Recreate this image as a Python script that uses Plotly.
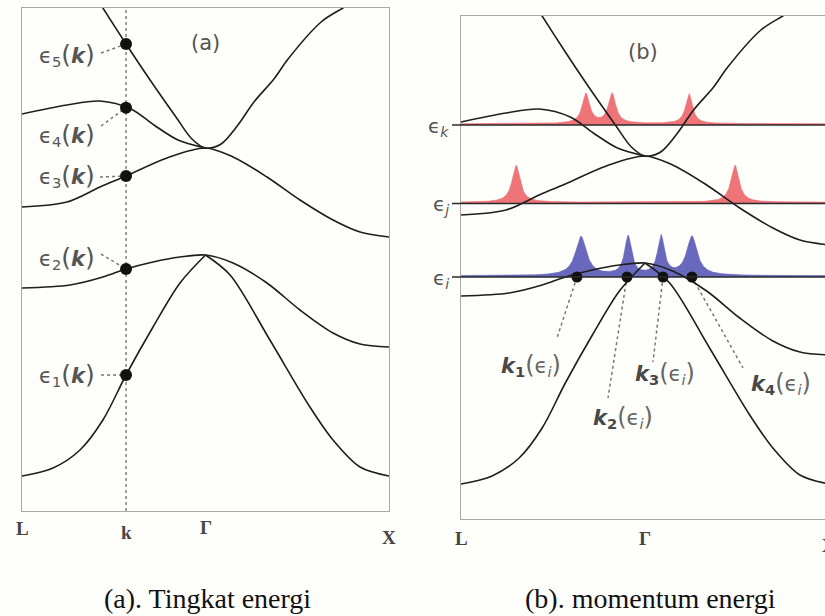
import numpy as np
import plotly.graph_objects as go

W, H = 825, 616

# ---------------- data (k: L=-1, Gamma=0, X=+1 ; energy in arbitrary units) ----------------
band1_left_k = [-1.0, -0.831, -0.684, -0.559, -0.433, -0.286, -0.139, 0.0]
band1_left_E = [-8.84, -8.52, -7.80, -6.60, -4.80, -2.88, -1.12, 0.0]
band1_right_k = [0.0, 0.134, 0.351, 0.569, 0.695, 0.842, 1.0]
band1_right_E = [0.0, -0.80, -3.40, -6.08, -7.40, -8.48, -8.84]

band2_k = [-1.0, -0.738, -0.559, -0.433, -0.286, -0.139, 0.0, 0.150, 0.335, 0.515, 0.695, 0.842, 1.0]
band2_E = [-1.32, -1.20, -0.88, -0.56, -0.28, -0.08, 0.0, -0.32, -1.12, -2.20, -3.12, -3.56, -3.68]

band3_k = [-1.0, -0.755, -0.575, -0.433, -0.210, 0.0, 0.150, 0.335, 0.515, 0.695, 0.842, 1.0]
band3_E = [1.92, 2.12, 2.72, 3.16, 3.88, 4.28, 3.92, 3.12, 2.20, 1.40, 0.92, 0.72]

band4_k = [-1.0, -0.755, -0.575, -0.406, -0.281, -0.150, 0.0]
band4_E = [5.64, 6.00, 6.16, 5.84, 5.20, 4.60, 4.28]

band5_k = [-0.629, -0.559, -0.433, -0.302, -0.161, -0.074, 0.0, 0.085, 0.177, 0.264, 0.373, 0.450, 0.630, 0.749, 0.896]
band5_E = [10.68, 9.88, 8.44, 7.00, 5.52, 4.64, 4.28, 4.44, 5.20, 6.12, 7.04, 7.84, 9.32, 9.88, 10.52]

k_point = -0.433                      # the k marked in panel (a)
state_labels = ["5", "4", "3", "2", "1"]

level_names = ["k", "j", "i"]
level_E = [5.52, 2.38, -0.56]

peak_k_pos = [-0.321, -0.179, 0.239]
peak_k_height = [1.20, 1.20, 1.20]
peak_k_width = [0.024, 0.024, 0.022]

peak_j_pos = [-0.701, 0.489]
peak_j_height = [1.48, 1.48]
peak_j_width = [0.026, 0.026]

peak_i_pos = [-0.348, -0.092, 0.087, 0.255]
peak_i_height = [1.56, 1.56, 1.56, 1.56]
peak_i_width = [0.036, 0.022, 0.022, 0.034]

ki_points = [-0.370, -0.098, 0.098, 0.255]   # k_n(eps_i)

# ---------------- geometry ----------------
A_L, A_R, A_T, A_B = 22, 389, 8, 511
B_L, B_G, B_HALF, B_T, B_B = 461, 645, 184, 16, 519
A_G, A_HALF = (A_L + A_R) / 2, (A_R - A_L) / 2
E_MIN, E_MAX = -10.24, 9.88
PXE = (A_B - A_T) / (E_MAX - E_MIN)


def a_px(k, E):
    return A_G + k * A_HALF, A_B - (E - E_MIN) * PXE


def b_px(k, E):
    return B_G + k * B_HALF, B_B - (E - E_MIN) * PXE


def P(px, py):
    return px / W, 1 - py / H


LINE = "#1e1e1e"
GRAYTXT = "#555555"
RED = "rgba(238,104,108,0.92)"
BLUE = "rgba(96,96,184,0.95)"

fig = go.Figure()

# spectral functions (panel b)
kk = np.linspace(-1, 1, 1601)


def spectral(pos, hgt, wid, base=0.05):
    s = np.full_like(kk, base)
    for p, h, w in zip(pos, hgt, wid):
        s += h * w ** 2 / ((kk - p) ** 2 + w ** 2)
    return s


specs = [
    (level_E[0], spectral(peak_k_pos, peak_k_height, peak_k_width), RED),
    (level_E[1], spectral(peak_j_pos, peak_j_height, peak_j_width), RED),
    (level_E[2], spectral(peak_i_pos, peak_i_height, peak_i_width), BLUE),
]
for E0, s, col in specs:
    fig.add_trace(go.Scatter(x=kk, y=np.full_like(kk, E0), xaxis="x2", yaxis="y2", mode="lines",
                             line=dict(width=0, color=col), hoverinfo="skip", showlegend=False))
    fig.add_trace(go.Scatter(x=kk, y=E0 + s, xaxis="x2", yaxis="y2", mode="lines", fill="tonexty",
                             fillcolor=col, line=dict(width=0.6, color=col),
                             hoverinfo="skip", showlegend=False))

# bands, in both panels
bands = [(band1_left_k, band1_left_E), (band1_right_k, band1_right_E), (band2_k, band2_E),
         (band3_k, band3_E), (band4_k, band4_E), (band5_k, band5_E)]
for xa, ya in [("x", "y"), ("x2", "y2")]:
    for bk, bE in bands:
        fig.add_trace(go.Scatter(x=bk, y=bE, xaxis=xa, yaxis=ya, mode="lines",
                                 line=dict(color=LINE, width=1.6, shape="spline", smoothing=0.9),
                                 hoverinfo="skip", showlegend=False))

# dots panel (a)
dot_bands = [(band5_k, band5_E), (band4_k, band4_E), (band3_k, band3_E), (band2_k, band2_E),
             (band1_left_k, band1_left_E)]
dotsA_E = [float(np.interp(k_point, bk, bE)) for bk, bE in dot_bands]
fig.add_trace(go.Scatter(x=[k_point] * len(dotsA_E), y=dotsA_E, xaxis="x", yaxis="y", mode="markers",
                         marker=dict(size=12, color="#111111"), hoverinfo="skip", showlegend=False))

# dots panel (b)
fig.add_trace(go.Scatter(x=ki_points, y=[level_E[2]] * len(ki_points), xaxis="x2", yaxis="y2",
                         mode="markers", marker=dict(size=11, color="#111111"),
                         hoverinfo="skip", showlegend=False))

shapes = []
annotations = []

# vertical dotted line at k
shapes.append(dict(type="line", xref="x", yref="paper", x0=k_point, x1=k_point,
                   y0=1 - A_B / H, y1=1 - A_T / H, line=dict(color="#8a8a8a", width=1.6, dash="dot"),
                   layer="below"))

# energy levels in panel (b)
for E0 in level_E:
    shapes.append(dict(type="line", xref="paper", yref="y2", x0=452 / W, x1=1.0, y0=E0, y1=E0,
                       line=dict(color="#2a2a2a", width=1.6), layer="above"))

# labels panel (a) + leaders
label_a_y = [55, 135, 176, 258, 375]
leader_a_start = [(101, 53), (101, 126), (100, 177), (101, 254), (101, 375)]
for lab, ly, (sx, sy), E in zip(state_labels, label_a_y, leader_a_start, dotsA_E):
    dx, dy = a_px(k_point, E)
    x0, y0 = P(sx, sy)
    x1, y1 = P(dx, dy)
    shapes.append(dict(type="line", xref="paper", yref="paper", x0=x0, y0=y0, x1=x1, y1=y1,
                       line=dict(color="#777777", width=1.5, dash="dot"), layer="below"))
    ax_, ay_ = P(97, ly)
    annotations.append(dict(
        x=ax_, y=ay_, xref="paper", yref="paper", xanchor="right", yanchor="middle", showarrow=False,
        text=("ϵ<sub>%s</sub><span style='font-size:25px'>(</span><b><i>k</i></b>"
              "<span style='font-size:25px'>)</span>" % lab),
        font=dict(family="DejaVu Sans", size=21, color=GRAYTXT)))

# labels panel (b) + leaders
label_b_pos = [(531, 365), (623, 417), (665, 373), (781, 383)]
leader_b_end = [(557, 338), (608, 398), (653, 362), (743, 368)]
for n, kp, (lx, ly), (ex, ey) in zip(range(1, 5), ki_points, label_b_pos, leader_b_end):
    dx, dy = b_px(kp, level_E[2])
    x0, y0 = P(dx, dy)
    x1, y1 = P(ex, ey)
    shapes.append(dict(type="line", xref="paper", yref="paper", x0=x0, y0=y0, x1=x1, y1=y1,
                       line=dict(color="#777777", width=1.5, dash="dot"), layer="below"))
    ax_, ay_ = P(lx, ly)
    annotations.append(dict(
        x=ax_, y=ay_, xref="paper", yref="paper", xanchor="center", yanchor="middle", showarrow=False,
        text=("<b><i>k</i></b><sub><b>%d</b></sub><span style='font-size:24px;color:#666'>(</span>"
              "<span style='color:#666'>ϵ<sub><i>i</i></sub></span>"
              "<span style='font-size:24px;color:#666'>)</span>" % n),
        font=dict(family="DejaVu Sans", size=21, color="#484848")))

# level labels
for name, E0 in zip(level_names, level_E):
    _, py = b_px(0, E0)
    ax_, ay_ = P(451, py + 2)
    annotations.append(dict(x=ax_, y=ay_, xref="paper", yref="paper", xanchor="right", yanchor="middle",
                            showarrow=False, text="ϵ<sub><i>%s</i></sub>" % name,
                            font=dict(family="DejaVu Sans", size=20, color=GRAYTXT)))

# panel titles
for txt, (px, py) in [("(a)", (205, 43)), ("(b)", (643, 52))]:
    x_, y_ = P(px, py)
    annotations.append(dict(x=x_, y=y_, xref="paper", yref="paper", showarrow=False, text=txt,
                            xanchor="center", yanchor="middle",
                            font=dict(family="DejaVu Sans", size=21, color=GRAYTXT)))

# k-point tick labels
tick_a = [(-1.0, "L", 528), (k_point, "k", 532), (0.0, "Γ", 527), (1.0, "X", 537)]
for kx, t, py in tick_a:
    annotations.append(dict(x=kx, y=1 - py / H, xref="x", yref="paper", showarrow=False, text="<b>%s</b>" % t,
                            xanchor="center", yanchor="middle",
                            font=dict(family="Liberation Serif", size=19, color="#454545")))
tick_b = [(-1.0, "L", 538), (0.0, "Γ", 538), (1.0, "X", 545)]
for kx, t, py in tick_b:
    annotations.append(dict(x=(B_G + kx * B_HALF) / W, y=1 - py / H, xref="paper", yref="paper",
                            showarrow=False, text="<b>%s</b>" % t, xanchor="center", yanchor="middle",
                            font=dict(family="Liberation Serif", size=19, color="#454545")))

# captions
for txt, px in [("(a). Tingkat energi", 207), ("(b). momentum energi", 650)]:
    x_, y_ = P(px, 598)
    annotations.append(dict(x=x_, y=y_, xref="paper", yref="paper", showarrow=False, text=txt,
                            xanchor="center", yanchor="middle",
                            font=dict(family="Liberation Serif", size=28, color="#111111")))

axis_common = dict(showgrid=False, zeroline=False, showticklabels=False, ticks="",
                   linecolor="#a8a8a8", linewidth=1.2, fixedrange=True)

fig.update_layout(
    width=W, height=H, margin=dict(l=0, r=0, t=0, b=0),
    paper_bgcolor="#fefefb", plot_bgcolor="rgba(0,0,0,0)",
    xaxis=dict(domain=[A_L / W, A_R / W], range=[(A_L - A_G) / A_HALF, (A_R - A_G) / A_HALF],
               showline=True, mirror=True, anchor="y", **axis_common),
    yaxis=dict(domain=[1 - A_B / H, 1 - A_T / H], range=[E_MIN, E_MAX],
               showline=True, mirror=True, anchor="x", **axis_common),
    xaxis2=dict(domain=[B_L / W, 1.0], range=[(B_L - B_G) / B_HALF, (W - B_G) / B_HALF],
                showline=True, mirror=True, anchor="y2", **axis_common),
    yaxis2=dict(domain=[1 - B_B / H, 1 - B_T / H], range=[E_MIN, E_MAX],
                showline=True, mirror=False, anchor="x2", **axis_common),
    shapes=shapes, annotations=annotations, showlegend=False,
)

fig.write_html("out.html", config={"displayModeBar": False},
               post_script="document.body.style.margin='0px';")
